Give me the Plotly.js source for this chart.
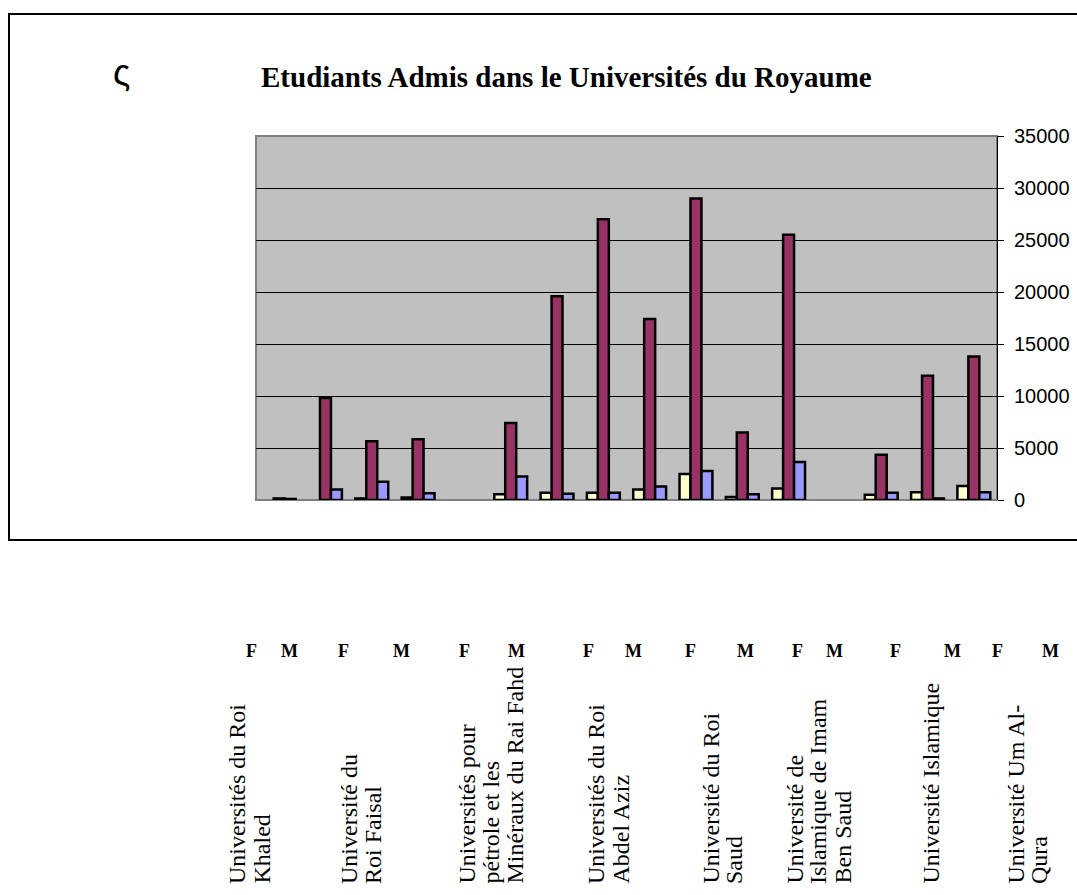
<!DOCTYPE html>
<html>
<head>
<meta charset="utf-8">
<script src="https://cdn.plot.ly/plotly-3.0.1.min.js"></script>
<style>html,body{margin:0;padding:0;background:#fff;}#chart{width:1077px;height:895px;}</style>
</head>
<body>
<div id="chart"></div>
<script>
// ---- data ----
const universities = [
  "Universités du Roi<br>Khaled",
  "Université du<br>Roi Faisal",
  "Universités pour<br>pétrole et les<br>Minéraux du Rai Fahd",
  "Universités du Roi<br>Abdel Aziz",
  "Université du Roi<br>Saud",
  "Université de<br>Islamique de Imam<br>Ben Saud",
  "Université Islamique",
  "Université Um Al-<br>Qura"
];
const genders = ["F", "M"];
// null = no bar drawn in the original
const seriesA = [null, null, 150, 250, null, 550, 700, 700, 1000, 2500, 300, 1100, null, 500, 750, 1350];
const seriesB = [150, 9800, 5650, 5850, null, 7400, 19600, 27000, 17400, 29000, 6500, 25500, null, 4350, 11950, 13800];
const seriesC = [100, 1000, 1750, 650, null, 2250, 600, 700, 1300, 2800, 550, 3650, null, 700, 150, 750];
const yTicks = [0, 5000, 10000, 15000, 20000, 25000, 30000, 35000];
const chartTitle = "Etudiants Admis dans le Universités du Royaume";

// ---- layout constants (pixels) ----
const W = 1077, H = 895;
const px = x => x / W;
const py = y => 1 - y / H;
const plotL = 256, plotR = 997, plotT = 136, plotB = 500;
const genderLabelX = [251, 289, 343, 401, 464, 516, 588, 633, 690, 745, 797, 834, 896, 952, 997, 1050];
const uniLabelX = [237, 349, 466, 596, 710, 794, 930, 1015];
const lineStep = 24;

const categories = [];
universities.forEach(u => genders.forEach(g => categories.push(u.replace(/<br>/g, ' ') + ' ' + g)));

const lineStyle = {color: '#000', width: 2.5};
const traces = [
  {name: 'Série 1', x: categories, y: seriesA, color: '#FFFFCC'},
  {name: 'Série 2', x: categories, y: seriesB, color: '#993366'},
  {name: 'Série 3', x: categories, y: seriesC, color: '#9999FF'}
].map(s => ({
  type: 'bar', name: s.name, x: s.x, y: s.y,
  marker: {color: s.color, line: lineStyle},
  hoverinfo: 'y'
}));

const annotations = [];
annotations.push({
  text: '<b>' + chartTitle + '</b>', xref: 'paper', yref: 'paper',
  x: px(566), y: py(77), xanchor: 'center', yanchor: 'middle', showarrow: false,
  font: {family: 'Liberation Serif', size: 29, color: '#000'}
});
annotations.push({
  text: 'ς', xref: 'paper', yref: 'paper',
  x: px(121), y: py(72), xanchor: 'center', yanchor: 'middle', showarrow: false,
  font: {family: 'Liberation Sans', size: 36, color: '#000'}
});
categories.forEach((c, i) => {
  annotations.push({
    text: '<b>' + genders[i % 2] + '</b>', xref: 'paper', yref: 'paper',
    x: px(genderLabelX[i]), y: py(651), xanchor: 'center', yanchor: 'middle', showarrow: false,
    font: {family: 'Liberation Serif', size: 18, color: '#000'}
  });
});
universities.forEach((u, i) => {
  u.split('<br>').forEach((line, j) => {
    annotations.push({
      text: line, xref: 'paper', yref: 'paper', textangle: -90,
      x: px(uniLabelX[i] + j * lineStep), y: py(886), xanchor: 'center', yanchor: 'bottom', showarrow: false,
      font: {family: 'Liberation Serif', size: 24, color: '#000'}
    });
  });
});

const layout = {
  width: W, height: H,
  margin: {l: 0, r: 0, t: 0, b: 0},
  paper_bgcolor: '#fff',
  plot_bgcolor: '#C0C0C0',
  showlegend: false,
  barmode: 'group',
  bargap: 0.29, bargroupgap: 0,
  xaxis: {
    domain: [px(plotL), px(plotR)], type: 'category',
    showticklabels: false, ticks: '', showgrid: false, zeroline: false,
    showline: false, automargin: false, fixedrange: true
  },
  yaxis: {
    domain: [py(plotB), py(plotT)], side: 'right', range: [0, 35000],
    tickvals: yTicks, ticktext: yTicks.map(String),
    ticks: 'outside', ticklen: 6, tickcolor: '#000', tickwidth: 1,
    showline: true, linecolor: '#000', linewidth: 1, mirror: false,
    showgrid: true, gridcolor: '#000', gridwidth: 1,
    zeroline: false, automargin: false, ticklabelstandoff: 6,
    tickfont: {family: 'Liberation Sans', size: 20, color: '#000'}, fixedrange: true
  },
  shapes: [
    {type: 'rect', xref: 'paper', yref: 'paper', x0: px(plotL), x1: px(plotR), y0: py(plotB), y1: py(plotT),
      line: {color: '#808080', width: 2}, layer: 'below'},
    {type: 'rect', xref: 'paper', yref: 'paper', x0: px(9), x1: px(1090), y0: py(540), y1: py(14),
      line: {color: '#000', width: 2}, fillcolor: 'rgba(0,0,0,0)'}
  ],
  annotations: annotations
};

Plotly.newPlot('chart', traces, layout, {displayModeBar: false, staticPlot: true});
</script>
</body>
</html>
